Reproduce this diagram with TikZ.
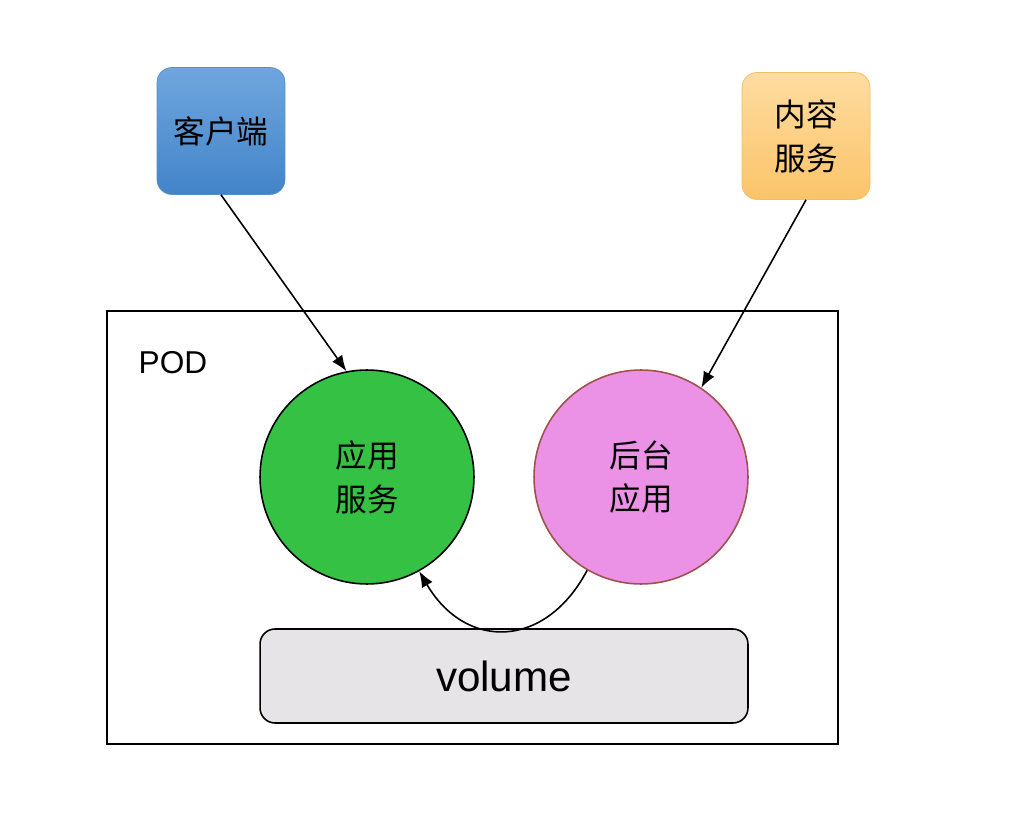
\documentclass[tikz,border=0pt]{standalone}
\usepackage{xcolor}
\usepackage{fontspec}
\usepackage{tikz}
\usetikzlibrary{arrows.meta}
\setmainfont{Liberation Sans}
\newfontfamily\cjk{Noto Sans CJK SC}

\definecolor{clienttop}{RGB}{112,166,222}
\definecolor{clientbot}{RGB}{66,132,200}
\definecolor{clientline}{RGB}{88,140,196}
\definecolor{contenttop}{RGB}{254,220,160}
\definecolor{contentbot}{RGB}{251,196,106}
\definecolor{contentline}{RGB}{240,190,100}
\definecolor{appgreen}{RGB}{52,193,68}
\definecolor{bgpink}{RGB}{236,146,230}
\definecolor{bgline}{RGB}{160,82,74}
\definecolor{volgray}{RGB}{230,228,230}

\begin{document}
\begin{tikzpicture}[x=0.02cm, y=-0.02cm,
    box/.style={rounded corners=0.3cm, minimum width=2.56cm, minimum height=2.54cm,
      align=center, font=\cjk\fontsize{18}{25}\selectfont},
    svc/.style={circle, draw=black, line width=0.9pt, minimum size=4.28cm,
      align=center, font=\cjk\fontsize{18}{25}\selectfont},
    link/.style={line width=0.9pt, -{Latex[length=9pt,width=7pt]}}]
  \useasboundingbox (0,0) rectangle (1030,830);

  % outer clients
  \node[box, draw=clientline, top color=clienttop, bottom color=clientbot] (client) at (221,131) {客户端};
  \node[box, draw=contentline, top color=contenttop, bottom color=contentbot] (content) at (806,136) {内容\\服务};

  % the pod
  \node[draw, line width=0.9pt, minimum width=14.62cm, minimum height=8.66cm] (pod) at (472.5,527.5) {};
  \node[font=\fontsize{18}{22}\selectfont] (podlabel) at (173,363) {POD};

  \node[svc, fill=appgreen] (appsvc) at (367,477) {应用\\服务};
  \node[svc, fill=bgpink, draw=bgline] (backend) at (641,477) {后台\\应用};
  \node[draw, line width=0.9pt, rounded corners=0.3cm, fill=volgray, minimum width=9.76cm,
    minimum height=1.88cm, font=\fontsize{24}{30}\selectfont] (volume) at (504,676) {volume};

  \draw[link] (client.south) -- (appsvc.101);
  \draw[link] (content.south) -- (backend.56);
  \draw[link] (backend.-120) .. controls (545,650) and (465,650) .. (appsvc.-61);
\end{tikzpicture}
\end{document}
